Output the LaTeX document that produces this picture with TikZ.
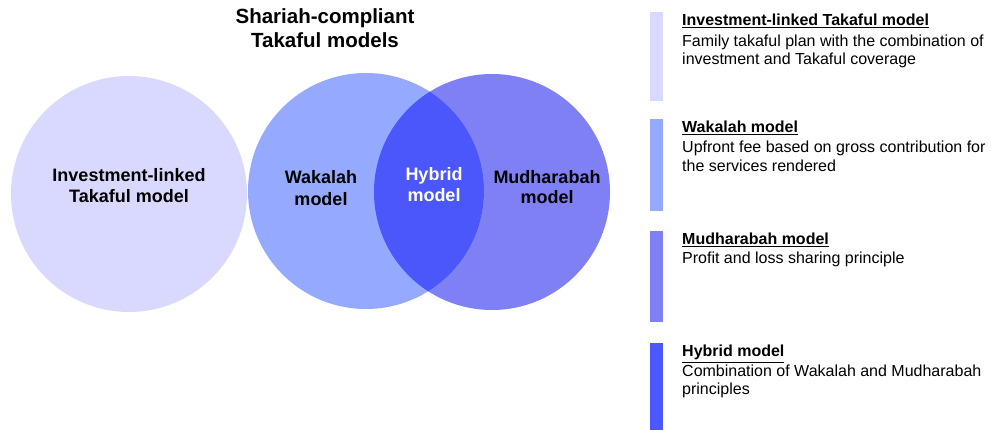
\documentclass[tikz,border=0pt]{standalone}
\usepackage{fontspec}
\setmainfont{Liberation Sans}
\definecolor{cInv}{RGB}{217,217,255}
\definecolor{cWak}{RGB}{149,170,255}
\definecolor{cMud}{RGB}{128,128,245}
\definecolor{cHyb}{RGB}{75,87,250}
\tikzset{
  ttl/.style={anchor=base, font=\fontsize{20.5}{24}\selectfont\bfseries, inner sep=0pt},
  clab/.style={anchor=base, font=\fontsize{18}{21}\selectfont\bfseries, inner sep=0pt},
  lhead/.style={anchor=base west, font=\fontsize{16}{19}\selectfont\bfseries, inner sep=0pt},
  lbody/.style={anchor=base west, font=\fontsize{16}{19}\selectfont, inner sep=0pt}
}
\begin{document}
\begin{tikzpicture}[x=1pt,y=-1pt]
\useasboundingbox (0,0) rectangle (991,430);
% circles
\coordinate (cI) at (129,194);
\coordinate (cW) at (366,191);
\coordinate (cM) at (492,192);
\fill[cInv] (cI) circle (118);
\fill[cMud] (cM) circle (118);
\fill[cWak] (cW) circle (118);
\begin{scope}
  \clip (cW) circle (118);
  \fill[cHyb] (cM) circle (118);
\end{scope}
% title
\node[ttl] (t1) at (325,24) {Shariah-compliant};
\node[ttl] (t2) at (325,48) {Takaful models};
% circle labels
\node[clab] (i1) at (129,182) {Investment-linked};
\node[clab] (i2) at (129,203) {Takaful model};
\node[clab] (w1) at (321,184) {Wakalah};
\node[clab] (w2) at (321,206) {model};
\node[clab,text=white] (h1) at (434,181) {Hybrid};
\node[clab,text=white] (h2) at (434,202) {model};
\node[clab] (m1) at (547,184) {Mudharabah};
\node[clab] (m2) at (547,204) {model};
% legend bars
\fill[cInv] (650,12) rectangle (663,101);
\fill[cWak] (650,119) rectangle (663,211);
\fill[cMud] (650,231) rectangle (663,322);
\fill[cHyb] (650,343) rectangle (663,430);
% legend texts
\node[lhead] (lh1) at (682,26) {\underline{Investment-linked Takaful model}};
\node[lbody] (lb1a) at (682,46.5) {Family takaful plan with the combination of};
\node[lbody] (lb1b) at (682,64.5) {investment and Takaful coverage};
\node[lhead] (lh2) at (682,133) {\underline{Wakalah model}};
\node[lbody] (lb2a) at (682,153) {Upfront fee based on gross contribution for};
\node[lbody] (lb2b) at (682,172) {the services rendered};
\node[lhead] (lh3) at (682,245) {\underline{Mudharabah model}};
\node[lbody] (lb3a) at (682,263.5) {Profit and loss sharing principle};
\node[lhead] (lh4) at (682,357) {\underline{Hybrid model}};
\node[lbody] (lb4a) at (682,377) {Combination of Wakalah and Mudharabah};
\node[lbody] (lb4b) at (682,395) {principles};
\end{tikzpicture}
\end{document}
